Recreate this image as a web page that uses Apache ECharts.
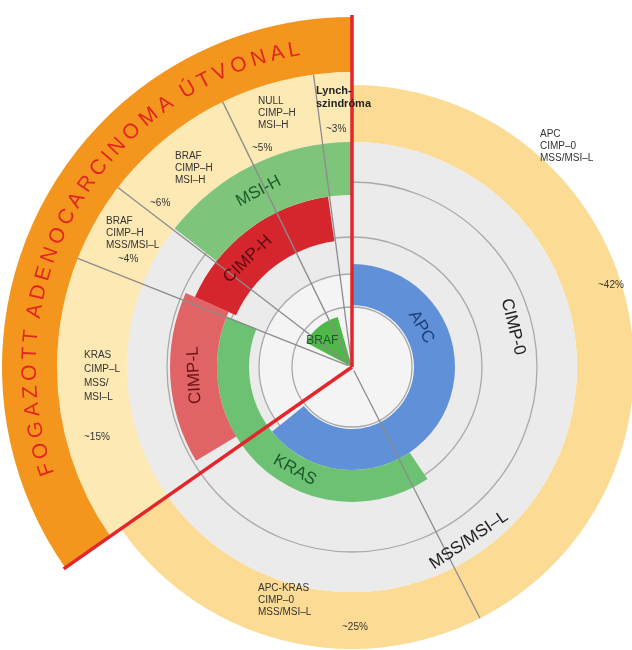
<!DOCTYPE html>
<html style="height: 100%">
<head>
<meta charset="utf-8">
<script src="https://cdn.jsdelivr.net/npm/echarts@6/dist/echarts.min.js"></script>
</head>
<body style="height: 100%; margin: 0; background: #fff">
<div id="container" style="width: 632px; height: 650px"></div>
<script>
// háttér gyűrűk: belső sugár, külső sugár, kezdő és záró szög (fok, óramutató szerint, fentről)
var bgNames = ['yellow', 'wedge', 'orange', 'gray', 'inner'];
var bgR0 = [225, 225, 295, 0, 0];
var bgR1 = [282, 295, 350, 225, 93];
var bgA0 = [0, 235, 235, 0, 0];
var bgA1 = [360, 360, 360, 360, 360];

// mutációs szegmensek
var segNames = ['APC', 'KRAS', 'CIMP-L', 'CIMP-H', 'MSI-H', 'BRAF'];
var segR0 = [62, 103, 135, 127, 172, 0];
var segR1 = [103, 135, 182, 172, 225, 52];
var segA0 = [0, 146, 239, 294, 308, 298];
var segA1 = [231, 292, 294, 352, 360, 344];

var circleRadii = [60, 93, 130, 185];

var spokeAngles = [352.5, 334, 307.5, 291.6, 153];
var spokeOuter = [295, 295, 295, 295, 282];
var redAngles = [0, 235];

// feliratok a gyűrűkben
var ringLabels = ['APC', 'CIMP-0', 'KRAS', 'MSS/MSI–L', 'CIMP-L', 'CIMP-H', 'MSI-H', 'BRAF'];
var ringLabelR = [80, 166, 118, 209, 158, 150, 199, 40];
var ringLabelA = [60, 76, 209, 146, 267, 316, 332, 312];

var titleText = 'FOGAZOTT ADENOCARCINOMA ÚTVONAL';
var titleFrom = 250;
var titleTo = 351;
var titleFont = '21px "Liberation Sans", Arial, sans-serif';

var colors = {
    yellow: '#fcdc94', wedge: '#fde9b4', orange: '#f4961e', gray: '#ebebeb', inner: '#f4f4f4',
    'APC': '#5f90d8', 'KRAS': '#6cc173', 'CIMP-L': '#e06466', 'CIMP-H': '#d5262d',
    'MSI-H': '#7ec47a', 'BRAF': '#4fb848'
};
var labelColors = {
    'APC': '#1d3f7a', 'CIMP-0': '#222', 'KRAS': '#1d5a2a', 'MSS/MSI–L': '#222',
    'CIMP-L': '#6b1416', 'CIMP-H': '#5a0c0e', 'MSI-H': '#1d5a2a', 'BRAF': '#1d5a2a'
};

// betűk szöghelyzete az ív mentén, a betűszélességek arányában
var ctx = document.createElement('canvas').getContext('2d');
ctx.font = titleFont;
var widths = titleText.split('').map(function (ch) { return ctx.measureText(ch).width; });
var total = widths.reduce(function (s, w) { return s + w; }, 0);
var acc = 0;
var titleAngles = widths.map(function (w) {
    var a = titleFrom + (acc + w / 2) / total * (titleTo - titleFrom);
    acc += w;
    return a;
});

var chart = echarts.init(document.getElementById('container'));

function pxRadius(api, r) {
    var c = api.coord([0, 0]);
    var p = api.coord([r, 0]);
    return Math.hypot(p[0] - c[0], p[1] - c[1]);
}
function sectorItem(api, r0, r1, a0, a1, color) {
    var c = api.coord([0, 0]);
    return {
        type: 'sector',
        shape: {
            cx: c[0], cy: c[1], r0: pxRadius(api, r0), r: pxRadius(api, r1),
            startAngle: (a0 - 90) * Math.PI / 180, endAngle: (a1 - 90) * Math.PI / 180, clockwise: true
        },
        style: { fill: color }
    };
}
function rot(a) {
    if (a > 95 && a < 265) return (180 - a) * Math.PI / 180;
    return -a * Math.PI / 180;
}

var option = {
    animation: false,
    polar: { center: [352, 367], radius: 350 },
    angleAxis: { type: 'value', min: 0, max: 360, startAngle: 90, clockwise: true, show: false },
    radiusAxis: { type: 'value', min: 0, max: 350, show: false },
    series: [
        {
            type: 'custom', coordinateSystem: 'polar', z: 1,
            data: bgNames.map(function (n, i) { return [bgR0[i], bgR1[i], bgA0[i], bgA1[i], i]; }),
            renderItem: function (params, api) {
                return sectorItem(api, api.value(0), api.value(1), api.value(2), api.value(3), colors[bgNames[api.value(4)]]);
            }
        },
        {
            type: 'custom', coordinateSystem: 'polar', z: 2,
            data: circleRadii.map(function (r) { return [r]; }),
            renderItem: function (params, api) {
                var c = api.coord([0, 0]);
                return {
                    type: 'circle',
                    shape: { cx: c[0], cy: c[1], r: pxRadius(api, api.value(0)) },
                    style: { fill: 'transparent', stroke: '#a9a9a9', lineWidth: 1.3 }
                };
            }
        },
        {
            type: 'custom', coordinateSystem: 'polar', z: 3,
            data: segNames.map(function (n, i) { return [segR0[i], segR1[i], segA0[i], segA1[i], i]; }),
            renderItem: function (params, api) {
                return sectorItem(api, api.value(0), api.value(1), api.value(2), api.value(3), colors[segNames[api.value(4)]]);
            }
        },
        {
            type: 'custom', coordinateSystem: 'polar', z: 4,
            data: spokeAngles.map(function (a, i) { return [a, spokeOuter[i]]; }),
            renderItem: function (params, api) {
                var p0 = api.coord([4, api.value(0)]);
                var p1 = api.coord([api.value(1), api.value(0)]);
                return {
                    type: 'line',
                    shape: { x1: p0[0], y1: p0[1], x2: p1[0], y2: p1[1] },
                    style: { stroke: '#8c8c8c', lineWidth: 1.3 }
                };
            }
        },
        {
            type: 'custom', coordinateSystem: 'polar', z: 6,
            data: redAngles.map(function (a) { return [a]; }),
            renderItem: function (params, api) {
                var p0 = api.coord([0, api.value(0)]);
                var p1 = api.coord([352, api.value(0)]);
                return {
                    type: 'line',
                    shape: { x1: p0[0], y1: p0[1], x2: p1[0], y2: p1[1] },
                    style: { stroke: '#e3262a', lineWidth: 3.5 }
                };
            }
        },
        {
            type: 'custom', coordinateSystem: 'polar', z: 5,
            data: ringLabels.map(function (t, i) { return [ringLabelR[i], ringLabelA[i], i]; }),
            renderItem: function (params, api) {
                var name = ringLabels[api.value(2)];
                var p = api.coord([api.value(0), api.value(1)]);
                return {
                    type: 'text', x: p[0], y: p[1],
                    rotation: name === 'BRAF' ? 0 : rot(api.value(1)),
                    style: {
                        text: name, fill: labelColors[name], align: 'center', verticalAlign: 'middle',
                        font: (name === 'BRAF' ? '12px' : '17px') + ' "Liberation Sans", Arial, sans-serif'
                    }
                };
            }
        },
        {
            type: 'custom', coordinateSystem: 'polar', z: 5,
            data: titleAngles.map(function (a, i) { return [322, a, i]; }),
            renderItem: function (params, api) {
                var p = api.coord([api.value(0), api.value(1)]);
                return {
                    type: 'text', x: p[0], y: p[1], rotation: -api.value(1) * Math.PI / 180,
                    style: {
                        text: titleText.charAt(api.value(2)), fill: '#e2261f', align: 'center', verticalAlign: 'middle',
                        font: titleFont
                    }
                };
            }
        }
    ],
    graphic: [
        { type: 'text', left: 540, top: 128, z: 10, style: { text: 'APC\nCIMP–0\nMSS/MSI–L', fill: '#333', font: '10px "Liberation Sans", sans-serif', lineHeight: 12 } },
        { type: 'text', left: 598, top: 280, z: 10, style: { text: '~42%', fill: '#333', font: '10px "Liberation Sans", sans-serif' } },
        { type: 'text', left: 258, top: 582, z: 10, style: { text: 'APC-KRAS\nCIMP–0\nMSS/MSI–L', fill: '#333', font: '10px "Liberation Sans", sans-serif', lineHeight: 12 } },
        { type: 'text', left: 342, top: 622, z: 10, style: { text: '~25%', fill: '#333', font: '10px "Liberation Sans", sans-serif' } },
        { type: 'text', left: 84, top: 348, z: 10, style: { text: 'KRAS\nCIMP–L\nMSS/\nMSI–L', fill: '#333', font: '10px "Liberation Sans", sans-serif', lineHeight: 14 } },
        { type: 'text', left: 84, top: 432, z: 10, style: { text: '~15%', fill: '#333', font: '10px "Liberation Sans", sans-serif' } },
        { type: 'text', left: 106, top: 215, z: 10, style: { text: 'BRAF\nCIMP–H\nMSS/MSI–L', fill: '#333', font: '10px "Liberation Sans", sans-serif', lineHeight: 12 } },
        { type: 'text', left: 118, top: 254, z: 10, style: { text: '~4%', fill: '#333', font: '10px "Liberation Sans", sans-serif' } },
        { type: 'text', left: 175, top: 150, z: 10, style: { text: 'BRAF\nCIMP–H\nMSI–H', fill: '#333', font: '10px "Liberation Sans", sans-serif', lineHeight: 12 } },
        { type: 'text', left: 150, top: 198, z: 10, style: { text: '~6%', fill: '#333', font: '10px "Liberation Sans", sans-serif' } },
        { type: 'text', left: 258, top: 95, z: 10, style: { text: 'NULL\nCIMP–H\nMSI–H', fill: '#333', font: '10px "Liberation Sans", sans-serif', lineHeight: 12 } },
        { type: 'text', left: 252, top: 143, z: 10, style: { text: '~5%', fill: '#333', font: '10px "Liberation Sans", sans-serif' } },
        { type: 'text', left: 316, top: 84, z: 10, style: { text: 'Lynch-\nszindróma', fill: '#222', font: 'bold 11px "Liberation Sans", sans-serif', lineHeight: 13 } },
        { type: 'text', left: 326, top: 124, z: 10, style: { text: '~3%', fill: '#333', font: '10px "Liberation Sans", sans-serif' } }
    ]
};
chart.setOption(option);
</script>
</body>
</html>
